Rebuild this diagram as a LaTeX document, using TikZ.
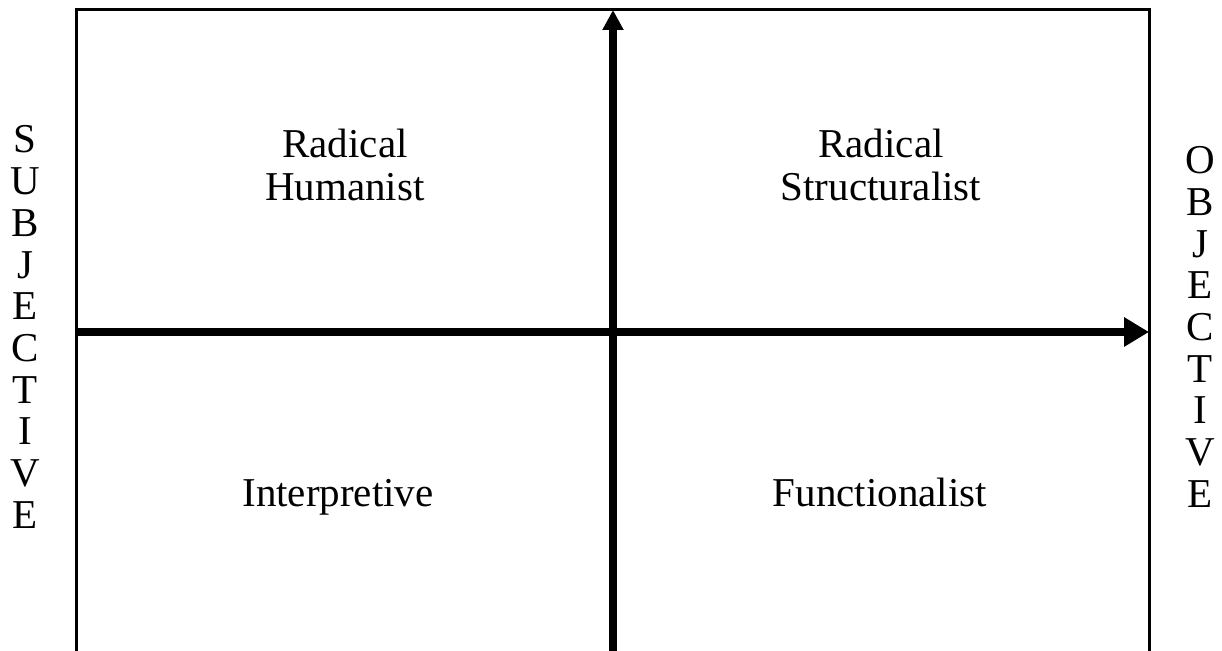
\documentclass[tikz,border=0pt]{standalone}
\usepackage{fontspec}
\setmainfont{Liberation Serif}
\usetikzlibrary{arrows.meta}
\begin{document}
\begin{tikzpicture}[x=0.5pt, y=-0.5pt, line width=1.5pt,
    axis/.style={line width=4.25pt},
    quad/.style={font=\fontsize{20.5}{21.5}\selectfont, align=center, inner sep=0pt},
    side/.style={font=\fontsize{20.5}{20.85}\selectfont, align=center, inner sep=0pt}]
  \useasboundingbox (0,0) rectangle (1222,651);
  \coordinate (frameSW) at (76,651);
  \coordinate (frameNW) at (76,10);
  \coordinate (frameNE) at (1149,10);
  \coordinate (frameSE) at (1149,651);
  \coordinate (south) at (613,651);
  \coordinate (north) at (613,10);
  \coordinate (west) at (76,332);
  \coordinate (east) at (1149,332);
  \draw (frameSW) -- (frameNW) -- (frameNE) -- (frameSE);
  \draw[axis, -{Triangle[length=10pt, width=10pt]}] (south) -- (north);
  \draw[axis, -{Triangle[length=12.5pt, width=14pt]}] (west) -- (east);
  \node[quad] (radhum) at (345,165) {Radical\\Humanist};
  \node[quad] (radstr) at (881,165) {Radical\\Structuralist};
  \node[quad, anchor=base] (interp) at (338,507) {Interpretive};
  \node[quad, anchor=base] (func) at (880,507) {Functionalist};
  \node[side] (subj) at (25,327) {S\\U\\B\\J\\E\\C\\T\\I\\V\\E};
  \node[side] (obj) at (1200,327) {O\\B\\J\\E\\C\\T\\I\\V\\E};
\end{tikzpicture}
\end{document}
